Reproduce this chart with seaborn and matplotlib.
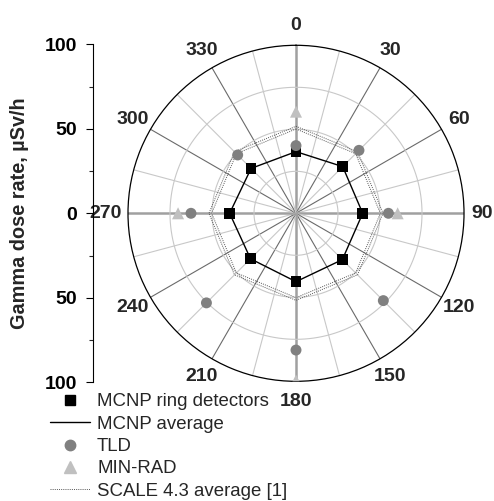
import numpy as np
import matplotlib
matplotlib.use("Agg")
import matplotlib.pyplot as plt
from matplotlib.lines import Line2D
import seaborn as sns

# data (angle in degrees, dose rate in uSv/h)
angles = [0, 45, 90, 135, 180, 225, 270, 315]
mcnp_ring = [36.7, 39.3, 39.7, 39.0, 40.7, 38.3, 39.5, 37.8]
tld = [40.3, 53.0, 55.0, 73.5, 81.4, 75.4, 62.5, 49.1]
minrad_angles = [0, 90, 180, 270]
minrad = [60.5, 60.5, 99.5, 70.2]
scale_upper = [51.8, 51.8, 51.8, 51.8, 51.8, 51.8, 51.8, 51.8]
scale_lower = [50.2, 50.2, 50.2, 50.2, 50.2, 50.2, 50.2, 50.2]
angle_labels = ["0", "30", "60", "90", "120", "150", "180", "210", "240", "270", "300", "330"]
radial_ticks = [-100, -50, 0, 50, 100]

sns.set_style("white")
plt.rcParams["font.family"] = ["Liberation Sans", "DejaVu Sans"]

fig = plt.figure(figsize=(4.94, 5.01), dpi=100)
ax = fig.add_axes([0.2591, 0.2389, 0.6802, 0.6707], projection="polar")
ax.set_theta_zero_location("N")
ax.set_theta_direction(-1)
ax.set_ylim(0, 100)
ax.grid(False)
ax.set_xticks([])
ax.set_yticks([])
ax.spines["polar"].set_color("black")
ax.spines["polar"].set_linewidth(0.9)

# spokes every 15 degrees
for a in range(0, 360, 15):
    th = np.deg2rad(a)
    if a % 90 == 0:
        c, lw = "#a0a0a0", 1.8
    elif a % 30 == 0:
        c, lw = "#6a6a6a", 0.8
    else:
        c, lw = "#c8c8c8", 0.8
    ax.plot([th, th], [0, 100], color=c, lw=lw, zorder=1)

# grid circles
t = np.linspace(0, 2 * np.pi, 361)
for r in [25, 50, 75]:
    ax.plot(t, np.full_like(t, r), color="#c8c8c8", lw=0.8, zorder=1)


def closed(vals):
    th = np.deg2rad(angles + [360])
    return th, list(vals) + [vals[0]]


th, v = closed(scale_upper)
ax.plot(th, v, color="#555555", lw=0.7, ls=(0, (1, 1.2)), zorder=2)
th, v = closed(scale_lower)
ax.plot(th, v, color="#555555", lw=0.7, ls=(0, (1, 1.2)), zorder=2)
th, v = closed(mcnp_ring)
ax.plot(th, v, color="black", lw=1.0, zorder=3)

sns.scatterplot(x=np.deg2rad(angles), y=mcnp_ring, marker="s", s=60,
                color="black", edgecolor="none", ax=ax, zorder=4)
sns.scatterplot(x=np.deg2rad(angles), y=tld, marker="o", s=62,
                color="#808080", edgecolor="none", ax=ax, zorder=4)
sns.scatterplot(x=np.deg2rad(minrad_angles), y=minrad, marker="^", s=75,
                color="#c0c0c0", edgecolor="none", ax=ax, zorder=4)
ax.set_xlabel("")
ax.set_ylabel("")
ax.set_ylim(0, 100)

# angle labels outside the circle
for i, lab in enumerate(angle_labels):
    th = np.deg2rad(i * 30)
    rad = {3: 110.5, 9: 113.5}.get(i, 112)
    ax.text(th, rad, lab, ha="center", va="center", fontsize=14,
            fontweight="bold", clip_on=False)

# left linear scale 100 - 0 - 100
ax2 = fig.add_axes([93.3 / 494, (501 - 382.3) / 501, 0.001, 338 / 501])
ax2.set_ylim(-100, 100)
ax2.set_xticks([])
for s in ["top", "right", "bottom"]:
    ax2.spines[s].set_visible(False)
ax2.spines["left"].set_color("black")
ax2.spines["left"].set_linewidth(0.8)
ax2.set_yticks(radial_ticks)
ax2.set_yticklabels([str(abs(x)) for x in radial_ticks], fontsize=14, fontweight="bold")
ax2.set_yticks([-75, -25, 25, 75], minor=True)
ax2.tick_params(axis="y", which="major", direction="out", length=5, width=0.8,
                left=True, pad=7, colors="black")
ax2.tick_params(axis="y", which="minor", direction="out", length=3, width=0.8, left=True)
ax2.patch.set_alpha(0)

fig.text(20 / 494, 1 - 213 / 501, "Gamma dose rate, \u00b5Sv/h", rotation=90,
         ha="center", va="center", fontsize=14.3, fontweight="bold")

handles = [
    Line2D([], [], marker="s", color="black", ls="none", markersize=7),
    Line2D([], [], color="black", lw=1.0),
    Line2D([], [], marker="o", color="#808080", ls="none", markersize=7.5),
    Line2D([], [], marker="^", color="#c0c0c0", ls="none", markersize=8.5),
    Line2D([], [], color="#555555", lw=0.7, ls=(0, (1, 1.2))),
]
labels = ["MCNP ring detectors", "MCNP average", "TLD", "MIN-RAD", "SCALE 4.3 average [1]"]
fig.legend(handles, labels, loc="upper left", bbox_to_anchor=(0.071, 0.245),
           frameon=False, fontsize=13.4, handlelength=2.15, handletextpad=0.38,
           labelspacing=0.29, borderpad=0.3)

fig.savefig("out.png", dpi=100)
